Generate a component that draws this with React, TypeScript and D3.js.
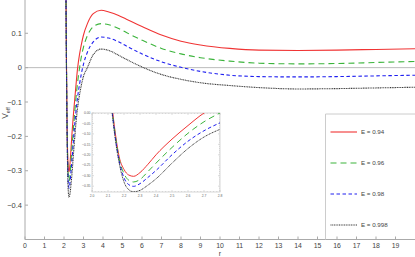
import * as d3 from "d3";

// shared r grid for all curves
const rGrid = [2.08, 2.1, 2.12, 2.13, 2.15, 2.17, 2.2, 2.23, 2.26, 2.3, 2.35, 2.4, 2.5, 2.6, 2.7, 2.8, 2.9, 3.0, 3.2, 3.5, 3.9, 4.3, 4.8, 5.2, 6.0, 7.0, 8.0, 9.0, 10.5, 12, 14, 16, 18, 20];

const vE094 = [0.6, 0.25, 0.07, 0.0, -0.12, -0.21, -0.27, -0.297, -0.303, -0.285, -0.245, -0.2, -0.125, -0.06, 0.0, 0.04, 0.07, 0.095, 0.128, 0.157, 0.167, 0.162, 0.152, 0.141, 0.12, 0.095, 0.077, 0.066, 0.056, 0.051, 0.05, 0.051, 0.053, 0.055];
const vE096 = [0.6, 0.24, 0.06, -0.01, -0.13, -0.22, -0.29, -0.322, -0.33, -0.318, -0.28, -0.24, -0.165, -0.097, -0.042, 0.0, 0.035, 0.06, 0.093, 0.119, 0.128, 0.125, 0.114, 0.102, 0.08, 0.056, 0.04, 0.029, 0.019, 0.013, 0.011, 0.012, 0.015, 0.018];
const vE098 = [0.6, 0.23, 0.05, -0.02, -0.14, -0.23, -0.31, -0.343, -0.351, -0.338, -0.308, -0.275, -0.2, -0.135, -0.085, -0.047, -0.015, 0.01, 0.045, 0.075, 0.089, 0.086, 0.075, 0.063, 0.04, 0.017, 0.001, -0.011, -0.022, -0.026, -0.027, -0.026, -0.024, -0.022];
const vE0998 = [0.6, 0.22, 0.04, -0.03, -0.15, -0.24, -0.33, -0.367, -0.377, -0.37, -0.345, -0.315, -0.24, -0.17, -0.115, -0.078, -0.048, -0.025, 0.0, 0.038, 0.054, 0.05, 0.036, 0.024, 0.002, -0.02, -0.034, -0.044, -0.052, -0.058, -0.062, -0.061, -0.059, -0.057];

const seriesLabels = ["E = 0.94", "E = 0.96", "E = 0.98", "E = 0.998"];
const seriesValues = [vE094, vE096, vE098, vE0998];
const seriesColors = ["#f03434", "#3cb43c", "#2020f0", "#333333"];
const seriesDash = ["none", "6,4", "3.5,2.5", "1,0.7"];

const xTicks = d3.range(0, 20);
const yTicks = [0.1, 0, -0.1, -0.2, -0.3, -0.4];
const insetXTicks = [2.0, 2.1, 2.2, 2.3, 2.4, 2.5, 2.6, 2.7, 2.8];
const insetYTicks = [0, -0.05, -0.1, -0.15, -0.2, -0.25, -0.3, -0.35];

const font = "'Liberation Sans', Arial, sans-serif";
const fmtMinus = (s: string) => s.replace("-", "\u2212");

export default function App() {
  const width = 415;
  const height = 257;

  const x = d3.scaleLinear().domain([0, 20]).range([25, 415]);
  const y = d3.scaleLinear().domain([-0.5, 0.2]).range([239.5, -1.1]);

  const ix = d3.scaleLinear().domain([2.0, 2.8]).range([92, 220]);
  const iy = d3.scaleLinear().domain([-0.378, 0]).range([192, 113]);

  const data = seriesValues.map((vals) => rGrid.map((r, i) => [r, vals[i]] as [number, number]));

  const mainLine = d3.line<[number, number]>().x((d) => x(d[0])).y((d) => y(d[1])).curve(d3.curveMonotoneX);
  const insetLine = d3.line<[number, number]>().x((d) => ix(d[0])).y((d) => iy(d[1])).curve(d3.curveMonotoneX);

  const legendY = [132, 163, 194, 225];
  const axisColor = "#aaaaaa";
  const textColor = "#444444";

  return (
    <svg width={width} height={height} style={{ position: "absolute", left: 0, top: 0, background: "#fff" }}>
      <defs>
        <clipPath id="mainClip">
          <rect x={x(0)} y={0} width={x(20) - x(0)} height={y(-0.5)} />
        </clipPath>
        <clipPath id="insetClip">
          <rect x={ix(2.0)} y={iy(0)} width={ix(2.8) - ix(2.0)} height={iy(-0.378) - iy(0)} />
        </clipPath>
      </defs>

      {/* zero line */}
      <line x1={x(0)} x2={x(20)} y1={y(0)} y2={y(0)} stroke="#bbbbbb" strokeWidth={1} />

      {/* axes */}
      <line x1={x(0)} x2={x(0)} y1={0} y2={y(-0.5)} stroke={axisColor} strokeWidth={1} />
      <line x1={x(0)} x2={x(20)} y1={y(-0.5)} y2={y(-0.5)} stroke={axisColor} strokeWidth={1} />
      {xTicks.map((t) => (
        <g key={"xt" + t}>
          <line x1={x(t)} x2={x(t)} y1={y(-0.5)} y2={y(-0.5) - 3} stroke={axisColor} />
          <text x={x(t)} y={y(-0.5) + 8.2} fontSize={6.9} fontFamily={font} fill={textColor} textAnchor="middle">
            {t}
          </text>
        </g>
      ))}
      {yTicks.map((t) => (
        <g key={"yt" + t}>
          <line x1={x(0)} x2={x(0) + 3} y1={y(t)} y2={y(t)} stroke={axisColor} />
          <text x={x(0) - 3} y={y(t) + 2.6} fontSize={7.5} fontFamily={font} fill={textColor} textAnchor="end">
            {fmtMinus(t === 0 ? "0" : d3.format(".1f")(t))}
          </text>
        </g>
      ))}
      <text transform={`translate(8,${113}) rotate(-90)`} fontSize={8.5} fontFamily={font} fill={textColor} textAnchor="middle">
        V<tspan fontSize={5.5} dy={2}>eff</tspan>
      </text>
      <text x={(x(0) + x(20)) / 2} y={255.8} fontSize={7} fontFamily={font} fill={textColor} textAnchor="middle">
        r
      </text>

      {/* main curves */}
      <g clipPath="url(#mainClip)">
        {data.map((d, i) => (
          <path key={i} d={mainLine(d) || ""} fill="none" stroke={seriesColors[i]} strokeWidth={1.1} strokeDasharray={seriesDash[i]} />
        ))}
      </g>

      {/* inset */}
      <rect x={ix(2.0)} y={iy(0)} width={ix(2.8) - ix(2.0)} height={iy(-0.378) - iy(0)} fill="#fff" stroke="#cccccc" strokeWidth={0.8} />
      {d3.range(2.0, 2.801, 0.02).map((t, k) => (
        <g key={"ixm" + k}>
          <line x1={ix(t)} x2={ix(t)} y1={iy(-0.378)} y2={iy(-0.378) - (k % 5 === 0 ? 2 : 1)} stroke="#bbbbbb" strokeWidth={0.5} />
          <line x1={ix(t)} x2={ix(t)} y1={iy(0)} y2={iy(0) + (k % 5 === 0 ? 2 : 1)} stroke="#bbbbbb" strokeWidth={0.5} />
        </g>
      ))}
      {d3.range(0, 0.371, 0.01).map((t, k) => (
        <g key={"iym" + k}>
          <line x1={ix(2.0)} x2={ix(2.0) + (k % 5 === 0 ? 2 : 1)} y1={iy(-t)} y2={iy(-t)} stroke="#bbbbbb" strokeWidth={0.5} />
          <line x1={ix(2.8)} x2={ix(2.8) - (k % 5 === 0 ? 2 : 1)} y1={iy(-t)} y2={iy(-t)} stroke="#bbbbbb" strokeWidth={0.5} />
        </g>
      ))}
      {insetXTicks.map((t) => (
        <text key={"ixl" + t} x={ix(t)} y={iy(-0.378) + 5} fontSize={3.4} fontFamily={font} fill="#666" textAnchor="middle">
          {d3.format(".1f")(t)}
        </text>
      ))}
      {insetYTicks.map((t) => (
        <text key={"iyl" + t} x={ix(2.0) - 1.5} y={iy(t) + 1.2} fontSize={3.4} fontFamily={font} fill="#666" textAnchor="end">
          {fmtMinus(d3.format(".2f")(t))}
        </text>
      ))}
      <g clipPath="url(#insetClip)">
        {data.map((d, i) => (
          <path key={i} d={insetLine(d) || ""} fill="none" stroke={seriesColors[i]} strokeWidth={1} strokeDasharray={seriesDash[i]} />
        ))}
      </g>

      {/* legend */}
      <line x1={325.5} x2={415} y1={114} y2={114} stroke="#cccccc" strokeWidth={1} />
      <line x1={325.5} x2={325.5} y1={114} y2={y(-0.5)} stroke="#cccccc" strokeWidth={1} />
      {seriesLabels.map((lab, i) => (
        <g key={lab}>
          <line x1={330.5} x2={357} y1={legendY[i]} y2={legendY[i]} stroke={seriesColors[i]} strokeWidth={1.1} strokeDasharray={seriesDash[i]} />
          <text x={361} y={legendY[i] + 2.2} fontSize={6.2} fontFamily={font} fill={textColor}>
            {lab}
          </text>
        </g>
      ))}
    </svg>
  );
}
